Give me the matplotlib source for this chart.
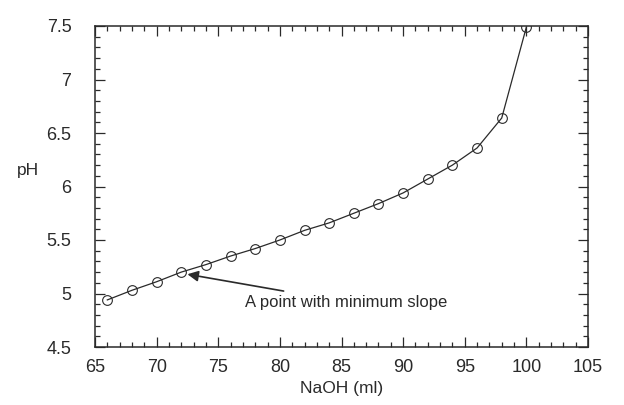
import matplotlib
matplotlib.use("Agg")
import matplotlib.pyplot as plt
from matplotlib.ticker import MultipleLocator

naoh_ml = [66, 68, 70, 72, 74, 76, 78, 80, 82, 84, 86, 88, 90, 92, 94, 96, 98, 100]
ph = [4.94, 5.03, 5.11, 5.20, 5.27, 5.35, 5.42, 5.50, 5.59, 5.66, 5.75, 5.84,
      5.94, 6.07, 6.20, 6.36, 6.64, 7.49]
x_ticks = [65, 70, 75, 80, 85, 90, 95, 100, 105]
y_ticks = [4.5, 5, 5.5, 6, 6.5, 7, 7.5]
y_tick_labels = ["4.5", "5", "5.5", "6", "6.5", "7", "7.5"]
annot_text = "A point with minimum slope"
annot_xy = (72.5, 5.18)
annot_text_xy = (77.2, 4.92)

ink = "#2a2a2a"
plt.rcParams['font.family'] = ['Liberation Sans', 'DejaVu Sans']

fig = plt.figure(figsize=(6.24, 4.05), dpi=100)
ax = fig.add_axes([95/624, 1-347/405, (588-95)/624, (347-26)/405])

ax.plot(naoh_ml, ph, '-', color=ink, lw=0.9, marker='o', ms=7,
        mfc='none', mec=ink, mew=0.8)

ax.set_xlim(65, 105)
ax.set_ylim(4.5, 7.5)
ax.set_xticks(x_ticks)
ax.set_xticklabels([str(v) for v in x_ticks])
ax.set_yticks(y_ticks)
ax.set_yticklabels(y_tick_labels)
ax.xaxis.set_minor_locator(MultipleLocator(1))
ax.yaxis.set_minor_locator(MultipleLocator(0.1))
ax.tick_params(which='both', direction='in', top=True, right=True, color=ink, width=0.9)
ax.tick_params(which='major', length=7)
ax.tick_params(which='minor', length=3.5)
ax.tick_params(axis='y', which='major', pad=17, labelsize=13, labelcolor=ink)
ax.tick_params(axis='x', which='major', pad=9, labelsize=13, labelcolor=ink)
for s in ax.spines.values():
    s.set_color(ink)
    s.set_linewidth(1.1)

ax.set_xlabel("NaOH (ml)", fontsize=12.5, color=ink, labelpad=3)
fig.text(28/624, 1-170/405, "pH", fontsize=12.5, color=ink, ha='center', va='center')

ax.annotate(annot_text, xy=annot_xy, xytext=annot_text_xy, fontsize=12, color=ink,
            va='center', ha='left',
            arrowprops=dict(arrowstyle='-|>', color=ink, lw=1.2, mutation_scale=16,
                            shrinkA=3, shrinkB=0))

fig.savefig("out.png", dpi=100, facecolor='white')
